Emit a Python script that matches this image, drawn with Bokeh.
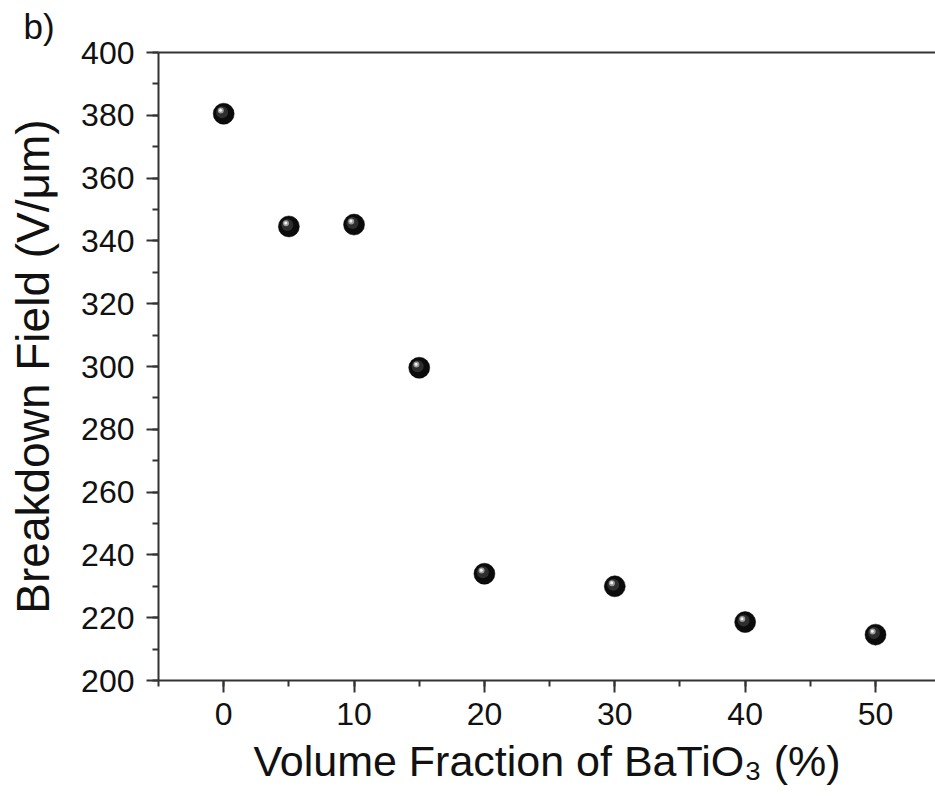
from bokeh.plotting import figure
from bokeh.models import (ColumnDataSource, LinearAxis, FixedTicker, SingleIntervalTicker,
                          Label, Range1d)
from bokeh.transform import dodge
from bokeh.embed import file_html
from bokeh.resources import INLINE

# ---- data ----
volume_fraction = [0, 5, 10, 15, 20, 30, 40, 50]
breakdown_field = [380.5, 344.6, 345.2, 299.6, 234.0, 230.0, 218.6, 214.6]

x_label = "Volume Fraction of BaTiO\u2083 (%)"
y_label = "Breakdown Field (V/\u03bcm)"
panel_tag = "b)"

FONT = "Liberation Sans"
AXIS_COLOR = "#333333"

src = ColumnDataSource(dict(x=volume_fraction, y=breakdown_field))

p = figure(width=935, height=796, output_backend="svg", toolbar_location=None,
           x_range=Range1d(-5, 54.6), y_range=Range1d(200, 400),
           min_border_left=158, min_border_right=0, min_border_top=52,
           min_border_bottom=116)
p.outline_line_color = None
p.grid.visible = False
p.background_fill_color = "white"
p.border_fill_color = "white"

# axes styling
for ax in (p.xaxis[0], p.yaxis[0]):
    ax.axis_line_color = AXIS_COLOR
    ax.axis_line_width = 2
    ax.major_tick_line_color = AXIS_COLOR
    ax.major_tick_line_width = 2
    ax.minor_tick_line_color = AXIS_COLOR
    ax.minor_tick_line_width = 2
    ax.major_tick_in = 0
    ax.major_tick_out = 12
    ax.minor_tick_in = 0
    ax.minor_tick_out = 6
    ax.major_label_text_font = FONT
    ax.major_label_text_font_size = "32px"
    ax.major_label_text_color = "#111111"
    ax.axis_label_text_font = FONT
    ax.axis_label_text_font_style = "normal"
    ax.axis_label_text_color = "#111111"

p.xaxis[0].ticker = SingleIntervalTicker(interval=10, num_minor_ticks=2)
p.yaxis[0].ticker = SingleIntervalTicker(interval=20, num_minor_ticks=2)
p.xaxis[0].major_label_standoff = 10
p.yaxis[0].major_label_standoff = 12

p.yaxis[0].axis_label = y_label
p.yaxis[0].axis_label_text_font_size = "46px"
p.yaxis[0].axis_label_standoff = 19

p.xaxis[0].axis_label = x_label
p.xaxis[0].axis_label_text_font_size = "43px"
p.xaxis[0].axis_label_standoff = 9

# top frame line
top = LinearAxis(ticker=FixedTicker(ticks=[]), major_label_text_font_size="0px",
                 axis_line_color=AXIS_COLOR, axis_line_width=2,
                 major_tick_line_color=None, minor_tick_line_color=None)
p.add_layout(top, "above")

# sphere-like markers
p.scatter("x", "y", source=src, size=21, fill_color="#0b0b0b", line_color="#000000",
          line_width=0.5)
p.scatter(dodge("x", -0.12, range=p.x_range), dodge("y", 0.5, range=p.y_range), source=src,
          size=12, fill_color="#2e2e2e", line_color=None)
p.scatter(dodge("x", -0.22, range=p.x_range), dodge("y", 1.0, range=p.y_range), source=src,
          size=6, fill_color="#9a9a9a", line_color=None)
p.scatter(dodge("x", -0.24, range=p.x_range), dodge("y", 1.1, range=p.y_range), source=src,
          size=3, fill_color="#f2f2f2", line_color=None)

# panel tag
p.add_layout(Label(x=-135, y=26, text=panel_tag, text_align="left",
                   text_baseline="alphabetic", text_font_size="35px",
                   x_units="screen", y_units="screen", text_font=FONT,
                   text_color="#111111"), "above")

open("out.html", "w").write(file_html(p, INLINE))
